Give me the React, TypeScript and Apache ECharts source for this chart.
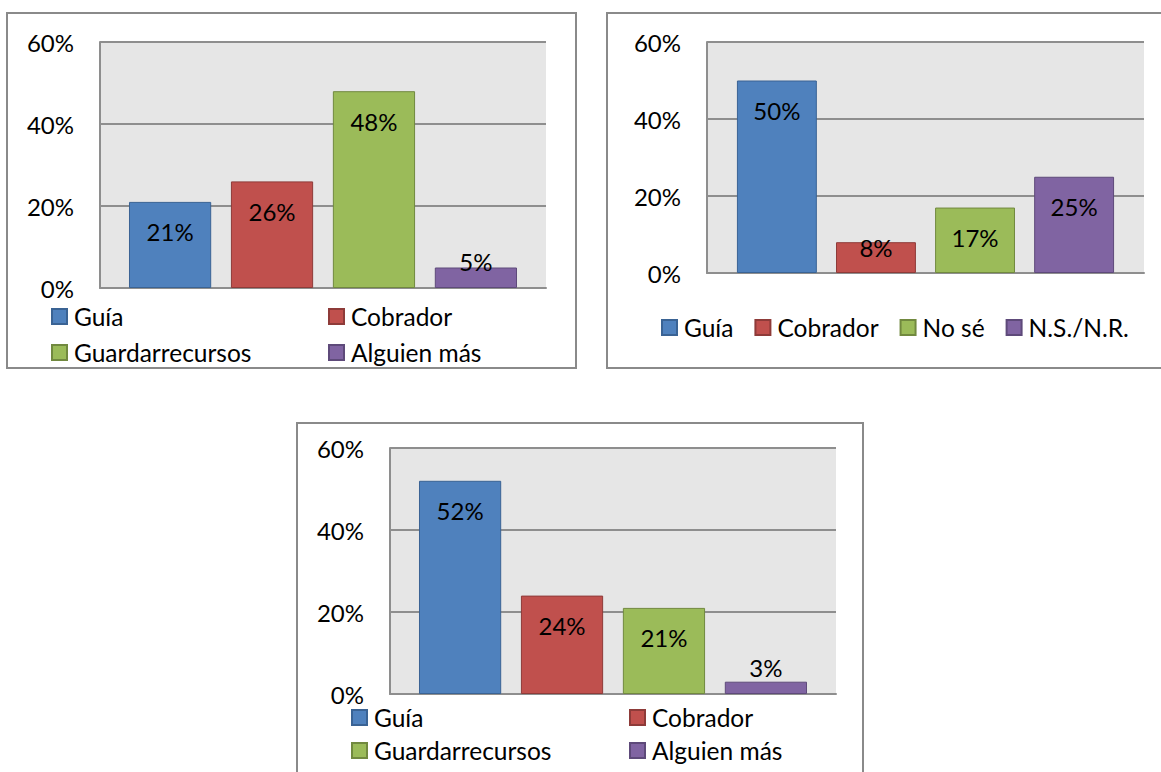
import React, { useEffect, useRef } from "react";
import * as echarts from "echarts";

// Survey answers, in percent
const rolesA = ["Guía", "Cobrador", "Guardarrecursos", "Alguien más"];
const valuesA = [21, 26, 48, 5];

const rolesB = ["Guía", "Cobrador", "No sé", "N.S./N.R."];
const valuesB = [50, 8, 17, 25];

const rolesC = ["Guía", "Cobrador", "Guardarrecursos", "Alguien más"];
const valuesC = [52, 24, 21, 3];

const yMin = 0;
const yMax = 60;
const yStep = 20;

const FILL = ["#4F81BD", "#C0504D", "#9BBB59", "#8064A2"];
const EDGE = ["#3A6394", "#8E3B39", "#71893F", "#5E4A7A"];

const FONT = "Lato, 'Noto Sans', sans-serif";
const FS = 24;
const FS_LEGEND = 24.5;
const LINE_GRAY = "#8e8e8e";

type Panel = {
  names: string[];
  values: number[];
  grid: { left: number; top: number; width: number; height: number };
  catGap: string;
  barGap: string;
  // label placement for each bar (short bars sit their label at the top edge)
  labels: { position: string; distance: number }[];
};

const inside = { position: "insideTop", distance: 18 };

const panels: Panel[] = [
  {
    names: rolesA,
    values: valuesA,
    grid: { left: 100, top: 42, width: 446, height: 246 },
    catGap: "13%",
    barGap: "24%",
    labels: [inside, inside, inside, { position: "top", distance: -6 }],
  },
  {
    names: rolesB,
    values: valuesB,
    grid: { left: 707, top: 42, width: 437, height: 231 },
    catGap: "13.7%",
    barGap: "24%",
    labels: [inside, { position: "insideTop", distance: -7 }, inside, inside],
  },
  {
    names: rolesC,
    values: valuesC,
    grid: { left: 390, top: 448, width: 446, height: 246 },
    catGap: "13%",
    barGap: "24%",
    labels: [inside, inside, inside, { position: "top", distance: 2 }],
  },
];

function buildOption() {
  const grids: any[] = [];
  const xAxes: any[] = [];
  const yAxes: any[] = [];
  const series: any[] = [];

  panels.forEach((p, gi) => {
    grids.push({
      ...p.grid,
      show: true,
      backgroundColor: "#e6e6e6",
      borderWidth: 0,
      containLabel: false,
    });
    xAxes.push({
      type: "category",
      gridIndex: gi,
      data: [""],
      axisLine: { show: true, lineStyle: { color: LINE_GRAY, width: 2 } },
      axisTick: { show: false },
      axisLabel: { show: false },
    });
    yAxes.push({
      type: "value",
      gridIndex: gi,
      min: yMin,
      max: yMax,
      interval: yStep,
      axisLine: { show: true, lineStyle: { color: LINE_GRAY, width: 2 } },
      axisTick: { show: false },
      splitLine: { show: true, lineStyle: { color: LINE_GRAY, width: 2 } },
      axisLabel: {
        formatter: "{value}%",
        color: "#000",
        fontFamily: FONT,
        fontSize: FS,
        margin: 26,
      },
    });
    p.names.forEach((name, i) => {
      series.push({
        type: "bar",
        name,
        xAxisIndex: gi,
        yAxisIndex: gi,
        data: [p.values[i]],
        barCategoryGap: p.catGap,
        barGap: p.barGap,
        itemStyle: { color: FILL[i], borderColor: EDGE[i], borderWidth: 1 },
        label: {
          show: true,
          position: p.labels[i].position,
          distance: p.labels[i].distance,
          formatter: "{c}%",
          color: "#000",
          fontFamily: FONT,
          fontSize: FS,
        },
      });
    });
  });

  const legendBase = {
    icon: "rect",
    itemWidth: 15,
    itemHeight: 15,
    padding: 0,
    selectedMode: false,
    textStyle: {
      color: "#000",
      fontFamily: FONT,
      fontSize: FS_LEGEND,
      lineHeight: 24,
      padding: [0, 0, 0, 2],
    },
  };

  const legends = [
    { ...legendBase, orient: "vertical", left: 51, top: 304, itemGap: 11, data: [rolesA[0], rolesA[2]] },
    { ...legendBase, orient: "vertical", left: 328, top: 304, itemGap: 11, data: [rolesA[1], rolesA[3]] },
    { ...legendBase, orient: "horizontal", left: 661, top: 315, itemGap: 21, data: rolesB },
    { ...legendBase, orient: "vertical", left: 351, top: 705, itemGap: 8, data: [rolesC[0], rolesC[2]] },
    { ...legendBase, orient: "vertical", left: 629, top: 705, itemGap: 8, data: [rolesC[1], rolesC[3]] },
  ];

  // frames around each chart
  const frame = (x: number, y: number, w: number, h: number) => ({
    type: "rect",
    shape: { x, y, width: w, height: h },
    style: { fill: "none", stroke: "#8a8a8a", lineWidth: 2 },
    silent: true,
    z: -1,
  });

  return {
    animation: false,
    backgroundColor: "#ffffff",
    grid: grids,
    xAxis: xAxes,
    yAxis: yAxes,
    series,
    legend: legends,
    graphic: [
      frame(7, 13, 569, 355),
      frame(607, 13, 580, 355),
      frame(297, 423, 566, 380),
    ],
  };
}

export default function App() {
  const ref = useRef<HTMLDivElement>(null);

  useEffect(() => {
    if (!ref.current) return;
    const chart = echarts.init(ref.current, undefined, { renderer: "svg" });
    chart.setOption(buildOption() as any);
    return () => chart.dispose();
  }, []);

  return (
    <div
      ref={ref}
      style={{ position: "absolute", left: 0, top: 0, width: 1161, height: 772 }}
    />
  );
}
